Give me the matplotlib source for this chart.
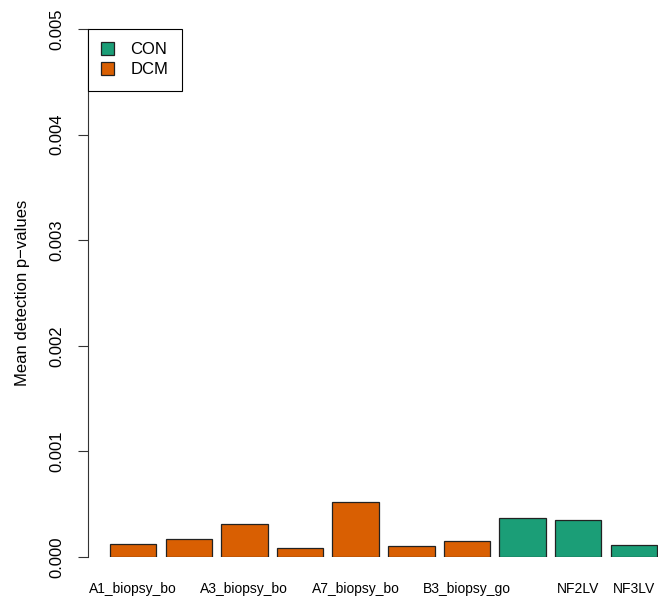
import matplotlib
matplotlib.use("Agg")
import matplotlib.pyplot as plt
from matplotlib.patches import Patch

plt.rcParams['font.family'] = ['Liberation Sans', 'DejaVu Sans']

# mean detection p-values per sample
samples = ["A1_biopsy_bo", "", "A3_biopsy_bo", "", "A7_biopsy_bo",
           "", "B3_biopsy_go", "", "NF2LV", "NF3LV"]
groups = ["DCM", "DCM", "DCM", "DCM", "DCM", "DCM", "DCM", "CON", "CON", "CON"]
pvals = [0.000123, 0.000170, 0.000310, 0.000085, 0.000520,
         0.000100, 0.000150, 0.000370, 0.000350, 0.000115]

group_colors = {"CON": "#1B9E77", "DCM": "#D95F02"}

fig = plt.figure(figsize=(6.58, 6.01), dpi=100)
W, H = 658, 601
# plot region like R's barplot (right side runs past the image edge)
ax = fig.add_axes([88 / W, (H - 557) / H, (679 - 88) / W, (557 - 29) / H])

# barplot positions: width 1, space 0.2
xpos = [0.7 + 1.2 * i for i in range(len(pvals))]
cols = [group_colors[g] for g in groups]
ax.bar(xpos, pvals, width=1.0, color=cols, edgecolor="#222222", linewidth=0.9)

ax.set_xlim(-0.272, 12.472)
ax.set_ylim(0, 0.005)

ax.set_xticks(xpos)
ax.set_xticklabels(samples, fontsize=10)
ax.tick_params(axis="x", length=0, pad=18)

yt = [0.0, 0.001, 0.002, 0.003, 0.004, 0.005]
ax.set_yticks(yt)
ax.set_yticklabels(["%.3f" % v for v in yt], rotation=90, va="center", fontsize=12)
ax.tick_params(axis="y", length=7.2, width=0.8, color="#333333", pad=10)

for s in ["top", "right", "bottom"]:
    ax.spines[s].set_visible(False)
ax.spines["left"].set_linewidth(0.8)
ax.spines["left"].set_color("#333333")

ax.set_ylabel("Mean detection p\u2212values", fontsize=12, labelpad=14)

handles = [Patch(facecolor=group_colors[g], edgecolor="#222222", linewidth=0.9)
           for g in ["CON", "DCM"]]
leg = ax.legend(handles, ["CON", "DCM"], loc="upper left", borderaxespad=0,
                fancybox=False, framealpha=1, edgecolor="black", fontsize=12,
                handlelength=0.75, handleheight=0.75, handletextpad=1.0,
                borderpad=0.8, labelspacing=0.3)
leg.get_frame().set_linewidth(0.8)

fig.savefig("out.png", dpi=100)
